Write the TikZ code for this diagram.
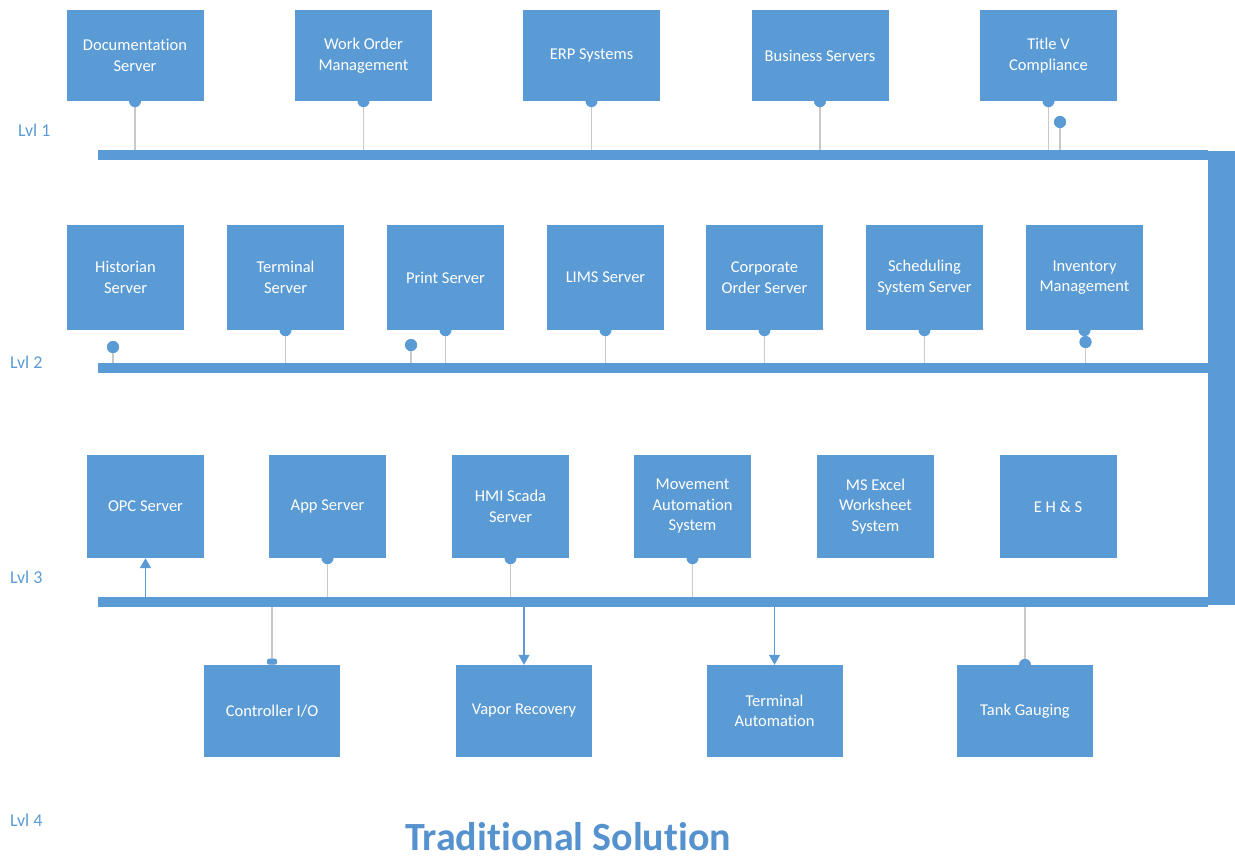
\documentclass[tikz,border=0pt]{standalone}
\usepackage{fontspec}
\setmainfont{Carlito}[Ligatures=NoCommon]
\usetikzlibrary{arrows.meta}
\definecolor{boxblue}{HTML}{5B9BD5}
\definecolor{linegray}{HTML}{C9C9C9}
\definecolor{lblblue}{HTML}{5B9BD5}
\definecolor{titleblue}{HTML}{5592CE}
\begin{document}
\begin{tikzpicture}[x=1pt,y=-1pt,
  box/.style={fill=boxblue, text=white, inner sep=0pt, align=center, font=\fontsize{16.5}{20.5}\selectfont},
  boxA/.style={box, minimum width=137pt, minimum height=91pt},
  boxB/.style={box, minimum width=117pt, minimum height=105pt},
  boxC/.style={box, minimum width=117pt, minimum height=103pt},
  boxD/.style={box, minimum width=136pt, minimum height=92pt},
  bus/.style={fill=boxblue, inner sep=0pt, minimum height=10pt, minimum width=1110pt},
  tap/.style={draw=linegray, line width=1.5pt},
  dotc/.style={circle, fill=boxblue, inner sep=0pt, minimum size=12pt},
  feed/.style={draw=boxblue, line width=1.5pt, -{Triangle[width=11pt,length=10pt]}},
  lvl/.style={text=lblblue, font=\fontsize{18}{20}\selectfont, anchor=west, inner sep=0pt}
]
\useasboundingbox (0,0) rectangle (1235,857);

% buses
\node[bus] (bus1) at (653,155) {};
\node[bus] (bus2) at (653,368) {};
\node[bus] (bus3) at (653,602) {};
\node[fill=boxblue, inner sep=0pt, minimum width=27pt, minimum height=454pt] (vbar) at (1221.5,378) {};

% level labels
\node[lvl] (l1) at (18,130) {Lvl 1};
\node[lvl] (l2) at (10,362) {Lvl 2};
\node[lvl] (l3) at (10,577) {Lvl 3};
\node[lvl] (l4) at (10,820) {Lvl 4};

% level 1 boxes
\node[boxA] (doc) at (135,55.5) {Documentation\\Server};
\node[boxA] (wom) at (363.5,55.5) {Work Order\\Management};
\node[boxA] (erp) at (591.5,55.5) {ERP Systems};
\node[boxA] (bsrv) at (820,55.5) {Business Servers};
\node[boxA] (tv) at (1048.5,55.5) {Title V\\Compliance};

% level 2 boxes
\node[boxB] (hist) at (125.5,277.5) {Historian\\Server};
\node[boxB] (term) at (285.5,277.5) {Terminal\\Server};
\node[boxB] (print) at (445.5,277.5) {Print Server};
\node[boxB] (lims) at (605.5,277.5) {LIMS Server};
\node[boxB] (corp) at (764.5,277.5) {Corporate\\Order Server};
\node[boxB] (sched) at (924.5,277.5) {Scheduling\\System Server};
\node[boxB] (inv) at (1084.5,277.5) {Inventory\\Management};

% level 3 boxes
\node[boxC] (opc) at (145.5,506.5) {OPC Server};
\node[boxC] (app) at (327.5,506.5) {App Server};
\node[boxC] (hmi) at (510.5,506.5) {HMI Scada\\Server};
\node[boxC] (mov) at (692.5,506.5) {Movement\\Automation\\System};
\node[boxC] (xls) at (875.5,506.5) {MS Excel\\Worksheet\\System};
\node[boxC] (ehs) at (1058,506.5) {E H \& S};

% level 4 boxes
\node[boxD] (ctrl) at (272,711) {Controller I/O};
\node[boxD] (vapor) at (524,711) {Vapor Recovery};
\node[boxD] (tauto) at (774.5,711) {Terminal\\Automation};
\node[boxD] (tank) at (1025,711) {Tank Gauging};

% free dots
\node[dotc] (tvd) at (1060,122) {};
\node[dotc] (histd) at (113,347) {};
\node[dotc] (printd) at (411,345) {};
\node[dotc] (invd) at (1085.5,342) {};

% level 1 taps
\foreach \b in {doc,wom,erp,bsrv,tv}{
  \draw[tap] (\b.south) -- (\b.south |- bus1.north);
  \node[dotc] at (\b.south) {};
}
\draw[tap] (tvd.center) -- (tvd.center |- bus1.north);
\node[dotc] at (tvd) {};

% level 2 taps
\foreach \b in {term,print,lims,corp,sched}{
  \draw[tap] (\b.south) -- (\b.south |- bus2.north);
  \node[dotc] at (\b.south) {};
}
\node[dotc] at (inv.south) {};
\foreach \d in {histd,printd,invd}{
  \draw[tap] (\d.center) -- (\d.center |- bus2.north);
  \node[dotc] at (\d) {};
}

% level 3 taps
\draw[feed] (opc.south |- bus3.north) -- (opc.south);
\foreach \b in {app,hmi,mov}{
  \draw[tap] (\b.south) -- (\b.south |- bus3.north);
  \node[dotc] at (\b.south) {};
}

% level 4 links
\draw[tap] (ctrl.north |- bus3.south) -- (ctrl.north);
\node[fill=boxblue, inner sep=0pt, minimum width=10pt, minimum height=6pt, rounded corners=2pt, anchor=south] (ctrlcap) at (ctrl.north) {};
\draw[feed] (vapor.north |- bus3.south) -- (vapor.north);
\draw[feed] (tauto.north |- bus3.south) -- (tauto.north);
\draw[tap] (tank.north |- bus3.south) -- (tank.north);
\node[dotc] at (tank.north) {};

% title
\node[font=\bfseries\fontsize{40}{44}\selectfont, text=titleblue, anchor=base, inner sep=0pt] (title) at (568,850) {Traditional Solution};
\end{tikzpicture}
\end{document}
